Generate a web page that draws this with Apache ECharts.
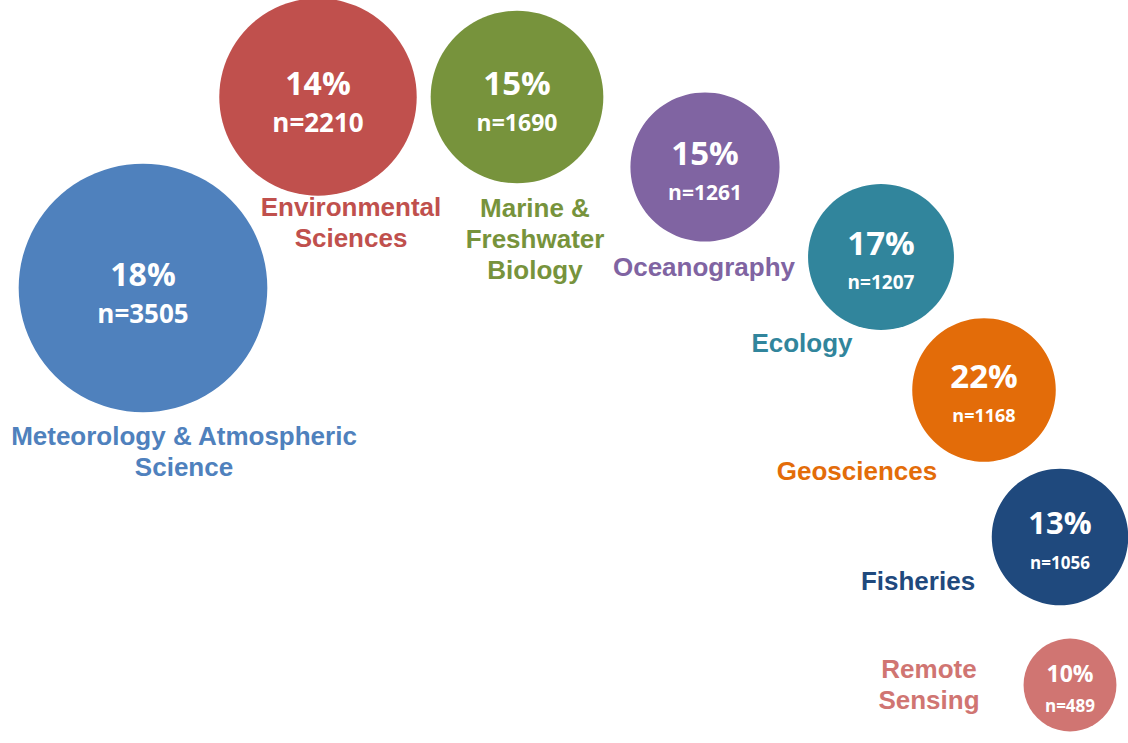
<!DOCTYPE html>
<html>
<head>
<meta charset="utf-8">
<script src="https://cdn.jsdelivr.net/npm/echarts@6/dist/echarts.min.js"></script>
<style>
  html, body { margin: 0; padding: 0; background: #ffffff; }
  #chart { width: 1128px; height: 743px; }
</style>
</head>
<body>
<div id="chart"></div>
<script>
// data
const categories = [
  'Meteorology & Atmospheric\nScience',
  'Environmental\nSciences',
  'Marine &\nFreshwater\nBiology',
  'Oceanography',
  'Ecology',
  'Geosciences',
  'Fisheries',
  'Remote\nSensing'
];
const percents = [18, 14, 15, 15, 17, 22, 13, 10];
const counts = [3505, 2210, 1690, 1261, 1207, 1168, 1056, 489];

// layout: bubble centres in a hidden 1128 x 743 frame
const layoutX = [143, 318, 517, 705, 881, 984, 1060, 1070];
const layoutY = [288, 97, 97, 167, 257, 390, 537, 685];
// offset of the category name from its bubble centre
const nameOffset = [[41, 163], [33, 125], [18, 142], [-1, 100], [-79, 86], [-127, 81], [-142, 44], [-141, -1]];

// styles
const colors = ['#4F81BD', '#C0504D', '#77933C', '#8064A2', '#31859C', '#E36C09', '#1F497D', '#D07572'];
const pctFont = [32, 32, 33, 33, 33, 33, 31, 23];
const nFont = [26, 26, 23, 21, 19, 18, 17, 17];

const chart = echarts.init(document.getElementById('chart'), null, { renderer: 'svg' });

const bubbleData = counts.map(function (n, i) {
  const small = i === 7;
  return {
    value: [layoutX[i], layoutY[i], n],
    itemStyle: { color: colors[i], opacity: 1 },
    label: {
      formatter: '{p|' + percents[i] + '%}\n{n|n=' + n + '}',
      rich: {
        p: { fontSize: pctFont[i], lineHeight: small ? 40 : 50 },
        n: { fontSize: nFont[i], lineHeight: small ? 24 : 30 }
      }
    }
  };
});

const nameData = categories.map(function (name, i) {
  return {
    value: [layoutX[i], layoutY[i]],
    name: name,
    label: { offset: nameOffset[i], color: colors[i] }
  };
});

const option = {
  backgroundColor: '#ffffff',
  animation: false,
  grid: { left: 0, right: 0, top: 0, bottom: 0 },
  xAxis: { type: 'value', min: 0, max: 1128, show: false },
  yAxis: { type: 'value', min: 0, max: 743, inverse: true, show: false },
  series: [
    {
      type: 'scatter',
      silent: true,
      clip: false,
      itemStyle: { opacity: 1 },
      symbolSize: function (val) {
        // area proportional to the count
        return 4.2 * Math.sqrt(val[2]);
      },
      label: {
        show: true,
        position: 'inside',
        color: '#ffffff',
        fontFamily: 'Open Sans',
        fontWeight: 'bold',
        align: 'center',
        verticalAlign: 'middle'
      },
      data: bubbleData
    },
    {
      type: 'scatter',
      silent: true,
      clip: false,
      symbolSize: 0,
      itemStyle: { opacity: 1 },
      label: {
        show: true,
        position: 'inside',
        formatter: '{b}',
        fontFamily: '"Liberation Sans", Arial, sans-serif',
        fontWeight: 'bold',
        fontSize: 26,
        lineHeight: 31,
        align: 'center',
        verticalAlign: 'middle'
      },
      data: nameData
    }
  ]
};

chart.setOption(option);
</script>
</body>
</html>
